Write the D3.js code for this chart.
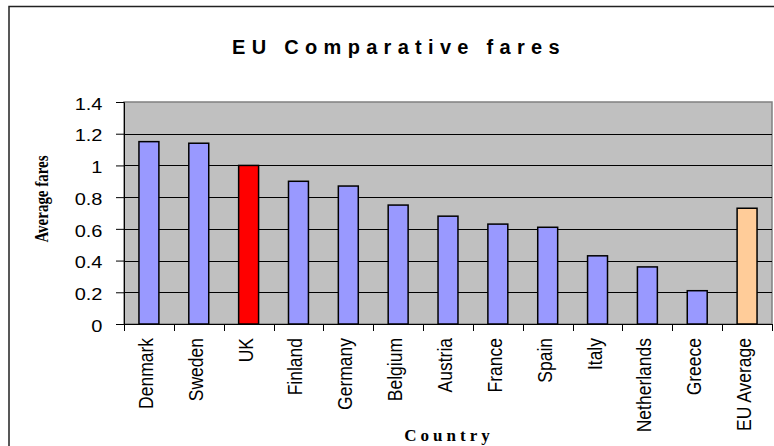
<!DOCTYPE html>
<html>
<head>
<meta charset="utf-8">
<script src="https://cdn.jsdelivr.net/npm/d3@7"></script>
<style>
  html, body { margin: 0; padding: 0; background: #fff; }
  svg { display: block; }
</style>
</head>
<body>
<svg id="chart" width="774" height="446"></svg>
<script>
// Average fares by country (UK = 1.0)
const countries = ["Denmark", "Sweden", "UK", "Finland", "Germany", "Belgium", "Austria",
  "France", "Spain", "Italy", "Netherlands", "Greece", "EU Average"];
const fares = [1.15, 1.14, 1.0, 0.90, 0.87, 0.75, 0.68, 0.63, 0.61, 0.43, 0.36, 0.21, 0.73];
const yTicks = [0, 0.2, 0.4, 0.6, 0.8, 1, 1.2, 1.4];

const titleText = "EU Comparative fares";
const yTitle = "Average fares";
const xTitle = "Country";

const svg = d3.select("#chart");
const W = 774, H = 446;
const plot = { left: 124, top: 102, right: 772, bottom: 324 };
const sans = "Arial, 'Liberation Sans', sans-serif";
const serif = "'Times New Roman', 'Liberation Serif', serif";

// Outer chart frame
svg.append("rect")
  .attr("x", 9).attr("y", 6.5)
  .attr("width", W + 10).attr("height", H + 10)
  .attr("fill", "#fff").attr("stroke", "#222").attr("stroke-width", 1.5);

const x = d3.scaleBand().domain(countries).range([plot.left, plot.right]).paddingInner(0).paddingOuter(0);
const y = d3.scaleLinear().domain([0, 1.4]).range([plot.bottom, plot.top]);

// Plot background
svg.append("rect")
  .attr("x", plot.left).attr("y", plot.top)
  .attr("width", plot.right - plot.left).attr("height", plot.bottom - plot.top)
  .attr("fill", "#C0C0C0").attr("stroke", "#808080").attr("stroke-width", 1.5);

// Horizontal gridlines
svg.append("g").selectAll("line")
  .data(yTicks.filter(d => d > 0 && d < 1.4))
  .join("line")
  .attr("x1", plot.left).attr("x2", plot.right)
  .attr("y1", d => Math.round(y(d)) + 0.5).attr("y2", d => Math.round(y(d)) + 0.5)
  .attr("stroke", "#000").attr("stroke-width", 1);

// Bars
const barW = x.bandwidth() * 0.4;
const colorFor = c => c === "UK" ? "#FF0000" : (c === "EU Average" ? "#FFCC99" : "#9999FF");
svg.append("g").selectAll("rect")
  .data(countries.map((c, i) => ({ c, v: fares[i] })))
  .join("rect")
  .attr("x", d => x(d.c) + (x.bandwidth() - barW) / 2)
  .attr("y", d => y(d.v))
  .attr("width", barW)
  .attr("height", d => y(0) - y(d.v))
  .attr("fill", d => colorFor(d.c))
  .attr("stroke", "#000").attr("stroke-width", 1.5);

// Y axis (labels drawn slightly wide)
const tickStretch = 1.25;
const yAxis = d3.axisLeft(y).tickValues(yTicks).tickSize(8).tickPadding(6)
  .tickFormat(d => String(d));
const gy = svg.append("g").attr("transform", `translate(${plot.left},0)`).call(yAxis);
gy.select(".domain").attr("stroke", "#000");
gy.selectAll(".tick line").attr("stroke", "#000");
gy.selectAll(".tick text")
  .attr("font-family", sans)
  .attr("font-size", 16).attr("fill", "#000")
  .attr("x", -21.5 / tickStretch)
  .attr("dy", "0.45em")
  .attr("transform", `scale(${tickStretch},1)`);

// X axis: ticks at category boundaries
svg.append("line")
  .attr("x1", plot.left).attr("x2", plot.right)
  .attr("y1", plot.bottom + 0.5).attr("y2", plot.bottom + 0.5)
  .attr("stroke", "#000");
const boundaries = countries.map(c => x(c)).concat([plot.right]);
svg.append("g").selectAll("line")
  .data(boundaries)
  .join("line")
  .attr("x1", d => Math.round(d) + 0.5).attr("x2", d => Math.round(d) + 0.5)
  .attr("y1", plot.bottom).attr("y2", plot.bottom + 7)
  .attr("stroke", "#000");

// Category labels, rotated
svg.append("g").selectAll("text")
  .data(countries)
  .join("text")
  .attr("transform", d => `translate(${x(d) + x.bandwidth() / 2 + 4},338) scale(1.12,1) rotate(-90)`)
  .attr("text-anchor", "end")
  .attr("font-family", sans)
  .attr("font-size", 17.5)
  .attr("fill", "#000")
  .text(d => d);

// Title
svg.append("text")
  .attr("x", 399).attr("y", 54)
  .attr("text-anchor", "middle")
  .attr("font-family", sans)
  .attr("font-weight", "bold").attr("font-size", 20)
  .attr("letter-spacing", 6.3)
  .attr("fill", "#000")
  .text(titleText);

// Y axis title
svg.append("text")
  .attr("transform", `translate(48,199) scale(1.3,1) rotate(-90)`)
  .attr("text-anchor", "middle")
  .attr("font-family", serif)
  .attr("font-weight", "bold").attr("font-size", 15)
  .attr("fill", "#000")
  .text(yTitle);

// X axis title
svg.append("text")
  .attr("x", 449).attr("y", 441)
  .attr("text-anchor", "middle")
  .attr("font-family", serif)
  .attr("font-weight", "bold").attr("font-size", 17)
  .attr("letter-spacing", 4)
  .attr("fill", "#000")
  .text(xTitle);
</script>
</body>
</html>
